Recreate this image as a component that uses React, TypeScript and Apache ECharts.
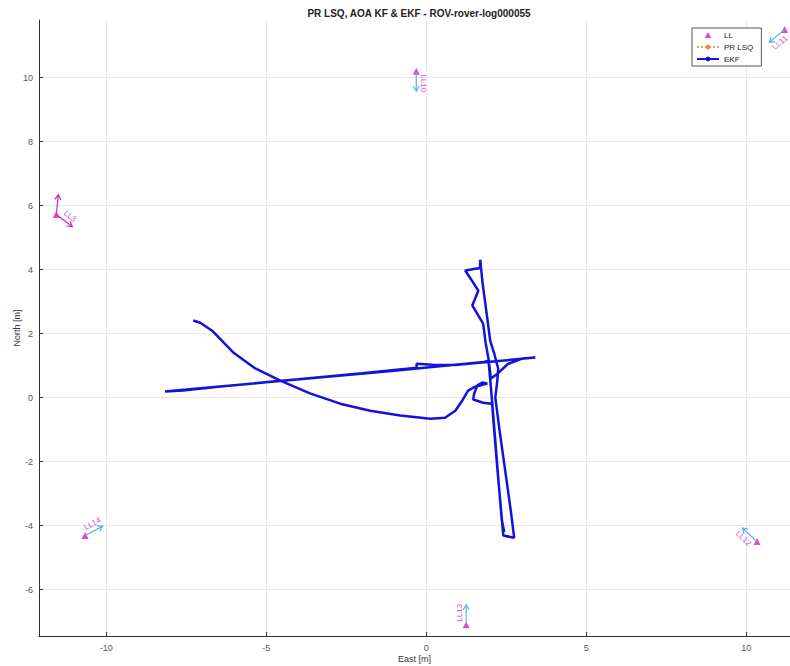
import React, { useEffect, useRef } from 'react';
import * as echarts from 'echarts';

const titleText = 'PR LSQ, AOA KF & EKF - ROV-rover-log000055';
const xTicks = [-10, -5, 0, 5, 10];
const yTicks = [-6, -4, -2, 0, 2, 4, 6, 8, 10];

const anchorNames = ['LL10', 'LL3', 'LL14', 'LL12', 'LL13', 'LL11'];
const anchorEast = [-0.31, -11.56, -10.66, 10.34, 1.25, 11.2];
const anchorNorth = [10.2, 5.72, -4.31, -4.5, -7.1, 11.5];
const anchorHeading = [-90, -37, 28, 137, 90, 220];
const anchorHeading2: (number | null)[] = [null, 84, null, null, null, null];

const ekfEast = [
  -7.28, -7.06, -6.69, -6.03, -5.34, -4.56, -3.63, -2.69, -1.75, -0.81, 0.13, 0.59, 0.91, 1.13, 1.31, 1.53, 1.91,
  1.75, 1.6, 1.5, 1.47, 1.78, 2.06,
  2.14, 2.24, 2.33, 2.41, 2.75, 2.64, 2.43, 2.29, 2.16, 2.22, 2.25, 2.12, 2.0, 1.92, 1.84, 1.76, 1.71, 1.69,
  1.68, 1.22, 1.4, 1.63, 1.44, 1.78,
  1.86, 1.95, 2.02, 2.2, 2.55, 3.0, 3.41,
  2.0, 0.9, 0.2, -0.3, -0.3, -2.0, -4.0, -6.0, -7.5, -8.16,
  -7.6, -6.5, -5.0, -3.0, -1.0, 0.5, 1.8, 1.95,
  2.05, 2.14, 2.26, 2.36, 2.44,
];
const ekfNorth = [
  2.41, 2.34, 2.09, 1.41, 0.91, 0.53, 0.13, -0.19, -0.41, -0.56, -0.66, -0.63, -0.41, -0.09, 0.22, 0.34, 0.44,
  0.47, 0.38, 0.13, -0.06, -0.16, -0.19,
  -1.2, -2.4, -3.4, -4.31, -4.38, -3.5, -2.0, -1.0, 0.0, 0.5, 0.91, 1.4, 1.78, 2.4, 3.0, 3.6, 4.1, 4.31,
  4.05, 3.97, 3.7, 3.34, 2.88, 2.31,
  1.7, 1.2, 0.6, 0.72, 1.05, 1.22, 1.25,
  1.12, 1.02, 1.03, 1.06, 0.93, 0.76, 0.57, 0.39, 0.25, 0.19,
  0.22, 0.34, 0.48, 0.66, 0.84, 0.99, 1.11, 1.15,
  0.0, -1.1, -2.6, -3.8, -4.2,
];
const prLsqEast: number[] = [];
const prLsqNorth: number[] = [];

const FONT = 'Liberation Sans, Arial, sans-serif';
const MAGENTA = '#cc22cc';
const LABEL = '#e044e0';
const CYAN = '#58b4e2';
const BLUE = '#1212dc';

export default function App() {
  const ref = useRef<HTMLDivElement>(null);
  useEffect(() => {
    if (!ref.current) return;
    const chart = echarts.init(ref.current, undefined, { renderer: 'svg' });
    const anchors = anchorNames.map((n, i) => [anchorEast[i], anchorNorth[i], anchorHeading[i]]);
    const ekf = ekfEast.map((x, i) => [x, ekfNorth[i]]);
    const pr = prLsqEast.map((x, i) => [x, prLsqNorth[i]]);

    const renderItem = (params: any, api: any) => {
      const i = params.dataIndex;
      const p = api.coord([api.value(0), api.value(1)]);
      const h = (api.value(2) * Math.PI) / 180;
      const children: any[] = [];
      const L = 20;
      const arrow = (ang: number, color: string) => {
        const ux = Math.cos(ang);
        const uy = -Math.sin(ang);
        const ex = p[0] + ux * L;
        const ey = p[1] + uy * L;
        const hx = ex - ux * 5;
        const hy = ey - uy * 5;
        const px = -uy;
        const py = ux;
        children.push({
          type: 'line',
          shape: { x1: p[0], y1: p[1], x2: ex, y2: ey },
          style: { stroke: color, lineWidth: 1.2 },
        });
        children.push({
          type: 'polyline',
          shape: { points: [[hx + px * 3, hy + py * 3], [ex, ey], [hx - px * 3, hy - py * 3]] },
          style: { stroke: color, fill: null, lineWidth: 1.2 },
        });
      };
      const h2 = anchorHeading2[i];
      arrow(h, h2 !== null ? MAGENTA : CYAN);
      if (h2 !== null) arrow((h2 * Math.PI) / 180, MAGENTA);
      let rot = Math.atan2(Math.sin(h), Math.cos(h));
      if (rot > Math.PI / 2 + 0.01) rot -= Math.PI;
      if (rot < -Math.PI / 2 - 0.01) rot += Math.PI;
      const dx = Math.cos(h);
      const dy = -Math.sin(h);
      const qx = -Math.sin(h);
      const qy = -Math.cos(h);
      children.push({
        type: 'text',
        x: p[0] + dx * 12 + qx * 7,
        y: p[1] + dy * 12 + qy * 7,
        rotation: rot,
        style: {
          text: anchorNames[i],
          fill: LABEL,
          fontSize: 8,
          fontFamily: FONT,
          align: 'center',
          verticalAlign: 'middle',
        },
      });
      return { type: 'group', children };
    };

    chart.setOption({
      animation: false,
      backgroundColor: '#ffffff',
      title: {
        text: titleText,
        left: 414,
        textAlign: 'center',
        top: 3,
        textStyle: { fontSize: 10, fontWeight: 'bold', color: '#222', fontFamily: FONT },
      },
      legend: {
        left: 692,
        top: 28,
        orient: 'vertical',
        data: [
          { name: 'LL', icon: 'path://M5,0L10,9L0,9Z' },
          { name: 'PR LSQ' },
          { name: 'EKF' },
        ],
        itemWidth: 22,
        itemHeight: 6,
        itemGap: 4,
        padding: [3, 8, 3, 4],
        borderColor: '#555',
        borderWidth: 1,
        backgroundColor: '#fff',
        textStyle: { fontSize: 8, color: '#222', fontFamily: FONT },
      },
      grid: { left: 39, right: 0, top: 20, bottom: 30, outerBoundsMode: 'none' },
      xAxis: {
        type: 'value',
        min: -12.1,
        max: 11.37,
        name: 'East [m]',
        nameLocation: 'middle',
        nameGap: 18,
        nameMoveOverlap: false,
        nameTextStyle: { fontSize: 9, color: '#333', fontFamily: FONT },
        axisLine: { show: true, onZero: false, lineStyle: { color: '#333', width: 1 } },
        axisTick: { show: true, inside: true, length: 4, customValues: xTicks, lineStyle: { color: '#333' } },
        axisLabel: { customValues: xTicks, fontSize: 9, color: '#555', margin: 7, fontFamily: FONT },
        splitLine: { show: true, lineStyle: { color: '#e8e8e8', width: 1 } },
      },
      yAxis: {
        type: 'value',
        min: -7.45,
        max: 11.8,
        name: 'North [m]',
        nameLocation: 'middle',
        nameGap: 18,
        nameMoveOverlap: false,
        nameTextStyle: { fontSize: 9, color: '#333', fontFamily: FONT },
        axisLine: { show: true, onZero: false, lineStyle: { color: '#333', width: 1 } },
        axisTick: { show: true, inside: true, length: 4, customValues: yTicks, lineStyle: { color: '#333' } },
        axisLabel: { customValues: yTicks, fontSize: 9, color: '#555', margin: 6, fontFamily: FONT },
        splitLine: { show: true, lineStyle: { color: '#e8e8e8', width: 1 } },
      },
      series: [
        {
          name: 'LL',
          type: 'scatter',
          data: anchors.map((a) => [a[0], a[1]]),
          symbol: 'triangle',
          symbolSize: 7,
          itemStyle: { color: MAGENTA },
          z: 5,
        },
        {
          name: 'PR LSQ',
          type: 'line',
          data: pr,
          symbol: 'circle',
          symbolSize: 3,
          itemStyle: { color: '#e08a3c' },
          lineStyle: { color: '#e0a070', type: 'dotted', width: 1 },
        },
        {
          name: 'EKF',
          type: 'line',
          data: ekf,
          symbol: 'circle',
          symbolSize: 3,
          showSymbol: false,
          itemStyle: { color: BLUE },
          lineStyle: { color: BLUE, width: 2.5 },
          z: 3,
        },
        {
          name: 'anchorsDecor',
          type: 'custom',
          data: anchors,
          renderItem,
          clip: false,
          z: 6,
          silent: true,
        },
      ],
    });
    return () => chart.dispose();
  }, []);
  return <div ref={ref} style={{ position: 'fixed', left: 0, top: 0, width: 790, height: 666 }} />;
}
